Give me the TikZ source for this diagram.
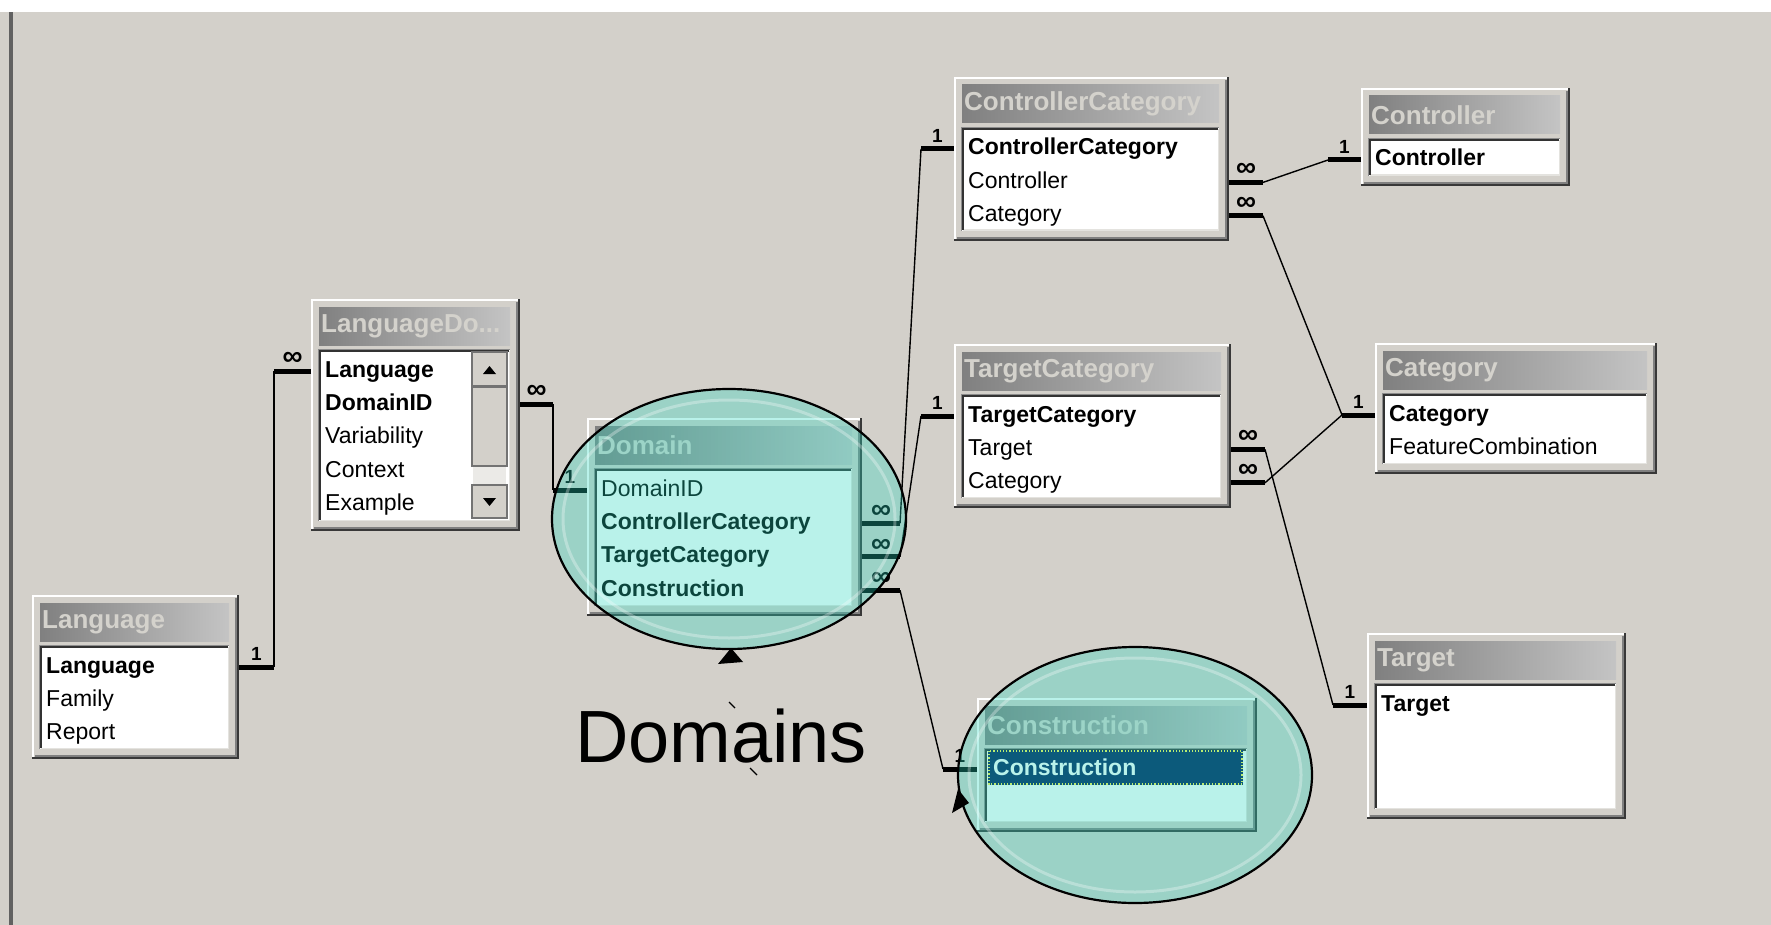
\documentclass[tikz,border=0pt]{standalone}
\usepackage{fontspec}
\setmainfont{Liberation Sans}
\usepackage{tikz}
\usetikzlibrary{shapes.geometric,positioning,calc}
\definecolor{deskgray}{RGB}{211,208,202}
\definecolor{titledark}{RGB}{128,128,128}
\definecolor{titlelight}{RGB}{196,196,196}
\definecolor{titletext}{RGB}{212,210,204}
\definecolor{lensfill}{RGB}{38,217,191}
\definecolor{selblue}{RGB}{0,30,92}
\newcommand{\tblframe}[1]{%
\draw[white,line width=2]($(#1.south west)+(1,-1)$)|-($(#1.north east)+(-1,1)$);
\draw[black!78,line width=2]($(#1.south west)+(0,-1)$)-|($(#1.north east)+(-1,0)$);
\draw[black!50,line width=2]($(#1.south west)+(3,-3)$)-|($(#1.north east)+(-3,3)$);
\shade[left color=titledark,right color=titlelight]($(#1.north west)+(8,8)$)rectangle($(#1.north east)+(-10,46)$);
\fill[white]($(#1.north west)+(8,51)$)rectangle($(#1.south east)+(-10,-10)$);
\draw[deskgray!60!white,line width=1.5]($(#1.south west)+(9,-10.75)$)-|($(#1.north east)+(-10.75,52)$);
\draw[black!80,line width=2]($(#1.south west)+(9,-11)$)|-($(#1.north east)+(-11,52)$);
\draw[black!45,line width=1]($(#1.south west)+(7.5,-10)$)|-($(#1.north east)+(-10,50.5)$);}

\begin{document}
\begin{tikzpicture}[x=1pt,y=-1pt,tbl/.style={fill=deskgray,inner sep=0pt,outer sep=0pt},
ttl/.style={anchor=west,inner sep=0pt,text=titletext,font=\fontsize{26}{28}\selectfont\bfseries},
fld/.style={anchor=west,inner sep=0pt,text height=17pt,text depth=5pt,minimum height=33pt,font=\fontsize{23}{25}\selectfont},
nextrow/.style={below=0pt of #1.south west,anchor=north west},
card/.style={inner sep=1pt,font=\fontsize{19}{19}\selectfont\bfseries},inf/.style={inner sep=0pt,font=\fontsize{28}{28}\selectfont\bfseries},
stub/.style={line width=5},rel/.style={line width=1.4},btn/.style={fill=deskgray,draw=black!55,line width=1.2},
lens/.style={ellipse,draw=black,line width=2.2,fill=lensfill,fill opacity=0.32,inner sep=0pt}]
\useasboundingbox(0,0)rectangle(1771,925);
\fill[white](0,0)rectangle(1771,925); \fill[deskgray](0,12)rectangle(1771,925); \fill[black!62](9,12)rectangle(13,925);

\node[tbl,minimum width=207,minimum height=164](lang) at (135.5,677){}; \tblframe{lang}
\node[ttl](langT) at ($(lang.north west)+(10,27)$){Language};
\node[fld](lang1) at ($(lang.north west)+(14,72)$){\textbf{Language}}; \node[fld,nextrow=lang1](lang2){Family}; \node[fld,nextrow=lang2](lang3){Report};

\node[tbl,minimum width=209,minimum height=232](ld) at (415.5,415){}; \tblframe{ld}
\node[ttl](ldT) at ($(ld.north west)+(10,27)$){LanguageDo...};
\node[fld](ld1) at ($(ld.north west)+(14,72)$){\textbf{Language}}; \node[fld,nextrow=ld1](ld2){\textbf{DomainID}};
\node[fld,nextrow=ld2](ld3){Variability}; \node[fld,nextrow=ld3](ld4){Context}; \node[fld,nextrow=ld4](ld5){Example};
\draw[btn](472,352)rectangle(507,386); \fill(483,374)--(496,374)--(489.5,366)--cycle;
\draw[btn](472,387)rectangle(507,466); \fill[deskgray!45!white](473,467)rectangle(506,484);
\draw[btn](472,485)rectangle(507,518); \fill(483,498)--(496,498)--(489.5,506)--cycle;

\node[tbl,minimum width=275,minimum height=198](dom) at (724.5,517){}; \tblframe{dom}
\node[ttl](domT) at ($(dom.north west)+(10,27)$){Domain};
\node[fld](dom1) at ($(dom.north west)+(14,72)$){DomainID}; \node[fld,nextrow=dom1](dom2){\textbf{ControllerCategory}};
\node[fld,nextrow=dom2](dom3){\textbf{TargetCategory}}; \node[fld,nextrow=dom3](dom4){\textbf{Construction}};

\node[tbl,minimum width=275,minimum height=164](cc) at (1091.5,159){}; \tblframe{cc}
\node[ttl](ccT) at ($(cc.north west)+(10,27)$){ControllerCategory};
\node[fld](cc1) at ($(cc.north west)+(14,72)$){\textbf{ControllerCategory}}; \node[fld,nextrow=cc1](cc2){Controller}; \node[fld,nextrow=cc2](cc3){Category};

\node[tbl,minimum width=209,minimum height=98](ctl) at (1465.5,137){}; \tblframe{ctl}
\node[ttl](ctlT) at ($(ctl.north west)+(10,27)$){Controller};
\node[fld](ctl1) at ($(ctl.north west)+(14,72)$){\textbf{Controller}};

\node[tbl,minimum width=277,minimum height=164](tc) at (1092.5,426){}; \tblframe{tc}
\node[ttl](tcT) at ($(tc.north west)+(10,27)$){TargetCategory};
\node[fld](tc1) at ($(tc.north west)+(14,72)$){\textbf{TargetCategory}}; \node[fld,nextrow=tc1](tc2){Target}; \node[fld,nextrow=tc2](tc3){Category};

\node[tbl,minimum width=282,minimum height=131](cat) at (1516,408.5){}; \tblframe{cat}
\node[ttl](catT) at ($(cat.north west)+(10,27)$){Category};
\node[fld](cat1) at ($(cat.north west)+(14,72)$){\textbf{Category}}; \node[fld,nextrow=cat1](cat2){FeatureCombination};

\node[tbl,minimum width=259,minimum height=186](tgt) at (1496.5,726){}; \tblframe{tgt}
\node[ttl](tgtT) at ($(tgt.north west)+(10,27)$){Target};
\node[fld](tgt1) at ($(tgt.north west)+(14,72)$){\textbf{Target}};

\node[tbl,minimum width=280,minimum height=134](con) at (1117,765){}; \tblframe{con}
\node[ttl](conT) at ($(con.north west)+(10,27)$){Construction};
\fill[selblue]($(con.north west)+(11,52)$)rectangle($(con.north east)+(-14,87)$);
\draw[yellow!70!white,dotted,line width=1.2]($(con.north west)+(12,53)$)rectangle($(con.north east)+(-15,86)$);
\node[fld,text=white](con1) at ($(con.north west)+(16,71)$){\textbf{Construction}};

\draw[stub](lang.east |- lang1)--node[card,above=3pt]{1}++(35,0)coordinate(lj1); \draw[stub](ld.west |- ld1)--node[inf,above=3pt]{∞}++(-37,0)coordinate(lj2); \draw[rel](lj1)--(lj2);
\draw[stub](ld.east |- ld2)--node[inf,above=3pt]{∞}++(33,0)coordinate(dj1); \draw[stub](dom.west |- dom1)--node[card,above=3pt]{1}++(-34,0)coordinate(dj2); \draw[rel](dj1)--(dj2);
\draw[stub](dom.east |- dom2)--node[inf,above=2pt]{∞}++(38,0)coordinate(cj1); \draw[stub](cc.west |- cc1)--node[card,above=3pt]{1}++(-33,0)coordinate(cj2); \draw[rel](cj1)--(cj2);
\draw[stub](dom.east |- dom3)--node[inf,above=2pt]{∞}++(38,0)coordinate(tj1); \draw[stub](tc.west |- tc1)--node[card,above=3pt]{1}++(-33,0)coordinate(tj2); \draw[rel](tj1)--(tj2);
\draw[stub](dom.east |- dom4)--node[inf,above=2pt]{∞}++(38,0)coordinate(kj1); \draw[stub](con.west |- con1)--node[card,above=3pt]{1}++(-34,0)coordinate(kj2); \draw[rel](kj1)--(kj2);
\draw[stub](cc.east |- cc2)--node[inf,above=3pt]{∞}++(34,0)coordinate(rj1); \draw[stub](ctl.west |- ctl1)--node[card,above=3pt]{1}++(-33,0)coordinate(rj2); \draw[rel](rj1)--(rj2);
\draw[stub](cc.east |- cc3)--node[inf,above=3pt]{∞}++(34,0)coordinate(aj1); \draw[stub](cat.west |- cat1)--node[card,above=3pt]{1}++(-33,0)coordinate(aj2); \draw[rel](aj1)--(aj2);
\draw[stub](tc.east |- tc2)--node[inf,above=3pt]{∞}++(34,0)coordinate(gj1); \draw[stub](tgt.west |- tgt1)--node[card,above=3pt]{1}++(-34,0)coordinate(gj2); \draw[rel](gj1)--(gj2);
\draw[stub](tc.east |- tc3)--node[inf,above=3pt]{∞}++(34,0)coordinate(bj1); \draw[rel](bj1)--(aj2);

\node[lens,minimum width=354,minimum height=260](domLens) at (729,519){};
\draw[white,opacity=0.3,line width=3](domLens.center) ellipse[x radius=166,y radius=119];
\node[lens,minimum width=354,minimum height=256](conLens) at (1135,775){};
\draw[white,opacity=0.3,line width=3](conLens.center) ellipse[x radius=166,y radius=117];
\node[font=\fontsize{74}{80}\selectfont](domLbl) at (721,736){Domains};
\fill(718,664)--(731,648)--(743,662)--cycle; \fill(952,813)--(958,789)--(969,803)--cycle;
\draw[line width=1.3](729,702)--(735,708) (750,768)--(757,775);
\end{tikzpicture}
\end{document}
